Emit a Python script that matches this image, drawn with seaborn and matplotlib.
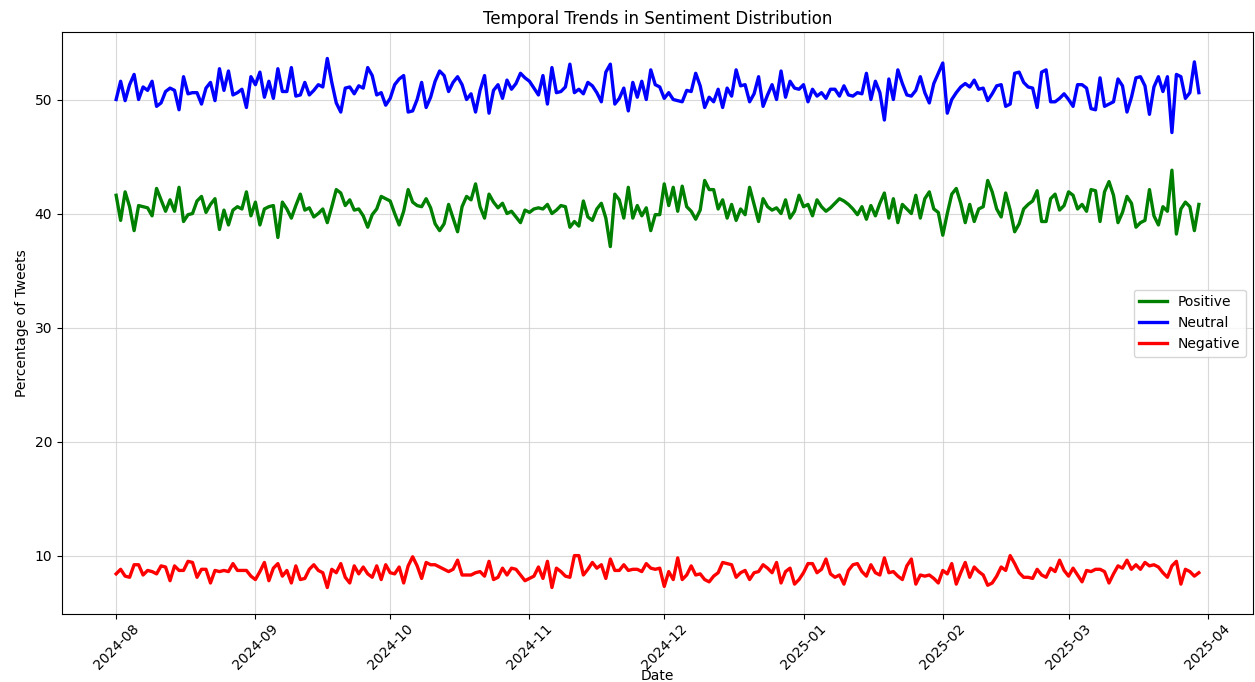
import matplotlib
matplotlib.use("Agg")
import matplotlib.pyplot as plt
import matplotlib.dates as mdates
import numpy as np
import pandas as pd
import seaborn as sns

start_date = "2024-08-01"

positive = [
    41.6, 39.4, 41.9, 40.6, 38.5, 40.7, 40.6, 40.5, 39.8, 42.2,
    41.2, 40.2, 41.2, 40.2, 42.3, 39.3, 39.9, 40.0, 41.1, 41.5,
    40.1, 40.8, 41.3, 38.6, 40.3, 39.0, 40.3, 40.6, 40.4, 41.9,
    39.8, 41.0, 39.0, 40.4, 40.6, 40.7, 37.9, 41.0, 40.4, 39.6,
    40.7, 41.7, 40.3, 40.5, 39.7, 40.0, 40.4, 39.2, 40.6, 42.1,
    41.8, 40.7, 41.2, 40.3, 40.4, 39.8, 38.8, 39.9, 40.4, 41.5,
    41.3, 41.1, 40.0, 39.0, 40.2, 42.1, 41.0, 40.7, 40.6, 41.3,
    40.5, 39.1, 38.5, 39.1, 40.8, 39.6, 38.4, 40.6, 41.5, 41.2,
    42.6, 40.6, 39.6, 41.7, 41.0, 40.5, 40.9, 40.0, 40.2, 39.7,
    39.2, 40.3, 40.1, 40.4, 40.5, 40.4, 40.8, 40.0, 40.3, 40.7,
    40.6, 38.8, 39.3, 38.9, 41.1, 39.7, 39.4, 40.4, 40.9, 39.6,
    37.1, 41.7, 41.2, 39.6, 42.3, 39.6, 40.7, 39.8, 40.5, 38.5,
    39.9, 39.9, 42.6, 40.7, 42.3, 40.2, 42.4, 40.6, 40.2, 39.5,
    40.3, 42.9, 42.1, 42.1, 40.4, 41.2, 39.6, 40.8, 39.4, 40.4,
    39.9, 42.3, 40.8, 39.3, 41.3, 40.6, 40.3, 40.5, 40.0, 41.2,
    39.6, 40.2, 41.6, 40.6, 40.8, 39.8, 41.2, 40.6, 40.2, 40.5,
    40.9, 41.3, 41.1, 40.8, 40.4, 39.9, 40.6, 39.5, 40.7, 39.8,
    40.9, 41.8, 39.6, 41.3, 39.2, 40.8, 40.4, 40.0, 41.6, 39.6,
    41.3, 41.9, 40.4, 40.1, 38.1, 40.0, 41.7, 42.2, 40.9, 39.2,
    40.8, 39.3, 40.4, 40.6, 42.9, 41.9, 40.4, 39.7, 41.8, 40.3,
    38.4, 39.1, 40.4, 40.8, 41.1, 42.0, 39.3, 39.3, 41.3, 41.7,
    40.3, 40.7, 41.9, 41.6, 40.4, 40.8, 40.2, 42.1, 42.0, 39.3,
    41.9, 42.8, 41.6, 39.2, 40.1, 41.5, 40.9, 38.8, 39.2, 39.4,
    42.1, 39.8, 39.0, 40.6, 40.2, 43.8, 38.2, 40.4, 41.0, 40.6,
    38.5, 40.8,
]

neutral = [
    50.0, 51.6, 49.9, 51.3, 52.2, 50.0, 51.1, 50.8, 51.6, 49.4,
    49.7, 50.7, 51.0, 50.8, 49.1, 52.0, 50.5, 50.6, 50.6, 49.6,
    51.0, 51.5, 49.9, 52.7, 50.8, 52.5, 50.4, 50.6, 50.9, 49.3,
    52.0, 51.3, 52.4, 50.2, 51.6, 50.1, 52.7, 50.7, 50.7, 52.8,
    50.3, 50.4, 51.5, 50.4, 50.8, 51.3, 51.1, 53.6, 51.5, 49.7,
    48.9, 51.0, 51.1, 50.5, 51.2, 51.0, 52.8, 52.1, 50.4, 50.6,
    49.5, 50.1, 51.3, 51.8, 52.1, 48.9, 49.0, 50.0, 51.5, 49.3,
    50.2, 51.6, 52.5, 52.1, 50.7, 51.5, 52.0, 51.3, 50.0, 50.5,
    48.9, 50.8, 52.1, 48.8, 50.8, 51.3, 50.1, 51.7, 50.9, 51.4,
    52.3, 51.9, 51.6, 51.0, 50.4, 52.1, 49.6, 52.8, 50.6, 50.7,
    51.1, 53.1, 50.6, 50.9, 50.5, 51.5, 51.2, 50.6, 49.8, 52.4,
    53.1, 49.6, 50.1, 51.0, 49.0, 51.5, 50.2, 51.6, 50.0, 52.6,
    51.3, 51.1, 50.1, 50.6, 50.0, 49.9, 49.8, 50.8, 50.7, 52.3,
    51.2, 49.3, 50.2, 49.8, 50.9, 49.3, 51.0, 50.3, 52.6, 51.2,
    51.3, 49.8, 50.5, 52.0, 49.4, 50.4, 51.3, 50.0, 52.5, 50.2,
    51.6, 51.0, 50.9, 51.3, 49.8, 50.9, 50.3, 50.6, 50.1, 50.9,
    50.9, 50.3, 51.2, 50.4, 50.3, 50.6, 50.5, 52.3, 50.0, 51.6,
    50.6, 48.2, 51.8, 50.0, 52.6, 51.4, 50.4, 50.3, 50.8, 52.0,
    50.6, 49.7, 51.4, 52.3, 53.2, 48.8, 50.0, 50.6, 51.1, 51.4,
    51.1, 51.7, 50.9, 51.0, 49.9, 50.5, 51.2, 51.3, 49.4, 49.6,
    52.3, 52.4, 51.5, 51.1, 51.0, 49.3, 52.4, 52.6, 49.8, 49.8,
    50.1, 50.5, 50.0, 49.4, 51.3, 51.3, 51.0, 49.2, 49.1, 51.9,
    49.4, 49.6, 49.8, 51.8, 51.2, 48.9, 50.2, 51.9, 52.0, 51.2,
    48.7, 51.1, 52.0, 50.7, 52.0, 47.1, 52.2, 52.0, 50.1, 50.6,
    53.3, 50.6,
]

negative = [
    8.4, 8.8, 8.2, 8.1, 9.2, 9.2, 8.3, 8.7, 8.6, 8.4,
    9.1, 9.0, 7.8, 9.1, 8.7, 8.7, 9.5, 9.4, 8.1, 8.8,
    8.8, 7.6, 8.7, 8.6, 8.7, 8.6, 9.3, 8.7, 8.7, 8.7,
    8.2, 7.9, 8.6, 9.4, 7.8, 8.9, 9.3, 8.2, 8.7, 7.6,
    9.1, 7.9, 8.0, 8.8, 9.2, 8.7, 8.5, 7.2, 8.8, 8.5,
    9.3, 8.1, 7.6, 9.1, 8.4, 9.0, 8.4, 8.1, 9.1, 7.9,
    9.2, 8.5, 8.4, 9.0, 7.6, 9.1, 9.9, 9.1, 8.0, 9.4,
    9.2, 9.2, 9.0, 8.8, 8.6, 8.8, 9.6, 8.3, 8.3, 8.3,
    8.5, 8.6, 8.2, 9.5, 7.9, 8.1, 8.9, 8.3, 8.9, 8.8,
    8.3, 7.8, 8.0, 8.2, 9.0, 8.0, 9.5, 7.2, 8.9, 8.6,
    8.2, 8.1, 10.0, 10.0, 8.3, 8.8, 9.4, 8.9, 9.2, 8.0,
    9.7, 8.7, 8.7, 9.2, 8.7, 8.8, 8.8, 8.6, 9.3, 8.9,
    8.8, 8.9, 7.3, 8.6, 7.9, 9.8, 7.9, 8.3, 9.1, 8.3,
    8.4, 7.9, 7.7, 8.2, 8.5, 9.4, 9.3, 9.2, 8.1, 8.5,
    8.7, 7.9, 8.5, 8.6, 9.2, 8.9, 8.5, 9.4, 7.6, 8.6,
    8.9, 7.5, 7.9, 8.5, 9.3, 9.3, 8.5, 8.8, 9.7, 8.4,
    8.1, 8.3, 7.5, 8.7, 9.2, 9.3, 8.6, 8.2, 9.2, 8.5,
    8.3, 9.8, 8.5, 8.6, 8.2, 7.9, 9.1, 9.7, 7.5, 8.3,
    8.2, 8.3, 8.0, 7.6, 8.7, 8.4, 9.3, 7.5, 8.5, 9.4,
    8.1, 9.0, 8.6, 8.3, 7.4, 7.6, 8.2, 9.0, 8.7, 10.0,
    9.3, 8.5, 8.1, 8.1, 8.0, 8.8, 8.3, 8.1, 8.9, 8.6,
    9.6, 8.7, 8.2, 8.9, 8.3, 7.7, 8.7, 8.6, 8.8, 8.8,
    8.6, 7.6, 8.4, 9.1, 8.9, 9.6, 8.8, 9.2, 8.8, 9.4,
    9.1, 9.2, 9.0, 8.5, 8.1, 9.1, 9.5, 7.5, 8.8, 8.6,
    8.2, 8.5,
]

labels = ["Positive", "Neutral", "Negative"]
colors = ["green", "blue", "red"]

frames = []
for name, values in zip(labels, [positive, neutral, negative]):
    dates = pd.date_range(start_date, periods=len(values), freq="D")
    frames.append(pd.DataFrame({"Date": dates, "Percentage": values, "Sentiment": name}))
df = pd.concat(frames, ignore_index=True)

plt.rcParams["font.family"] = ["DejaVu Sans"]
fig = plt.figure(figsize=(12.55, 6.82), dpi=100)
ax = fig.add_axes([62 / 1255, 68 / 682, 1191 / 1255, 582 / 682])

sns.lineplot(data=df, x="Date", y="Percentage", hue="Sentiment",
             hue_order=labels, palette=dict(zip(labels, colors)),
             linewidth=2.4, ax=ax)

ax.set_title("Temporal Trends in Sentiment Distribution", fontsize=12)
ax.set_xlabel("Date", fontsize=10)
ax.set_ylabel("Percentage of Tweets", fontsize=10)
ax.xaxis.set_label_coords(0.5, -0.095)
ax.xaxis.set_major_locator(mdates.MonthLocator())
ax.xaxis.set_major_formatter(mdates.DateFormatter("%Y-%m"))
ax.set_yticks([10, 20, 30, 40, 50])
plt.setp(ax.get_xticklabels(), rotation=45)
ax.tick_params(labelsize=10)
ax.tick_params(axis="x", pad=2)
ax.grid(True, color="#d0d0d0", linewidth=0.8, alpha=0.8)
ax.set_axisbelow(True)
ax.margins(x=0.05, y=0.05)

leg = ax.legend(loc="center right", fontsize=10, title=None)

fig.savefig("out.png", dpi=100)
